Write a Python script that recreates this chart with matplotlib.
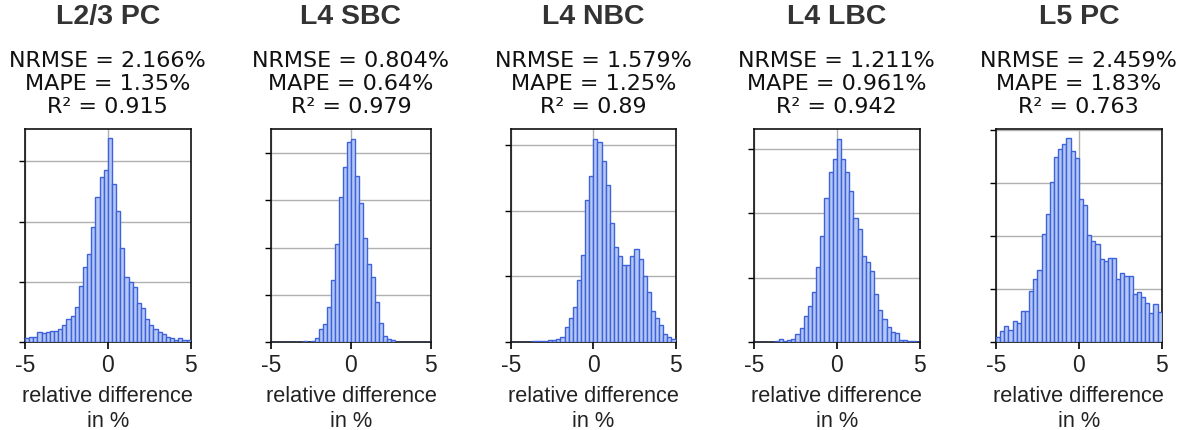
import numpy as np
import matplotlib
matplotlib.use("Agg")
import matplotlib.pyplot as plt

# histogram bins: 40 bins of 0.25 % between -5 and 5
bin_edges = np.linspace(-5, 5, 41)

titles = ["L2/3 PC", "L4 SBC", "L4 NBC", "L4 LBC", "L5 PC"]
nrmse = ["2.166%", "0.804%", "1.579%", "1.211%", "2.459%"]
mape = ["1.35%", "0.64%", "1.25%", "0.961%", "1.83%"]
r2 = ["0.915", "0.979", "0.89", "0.942", "0.763"]

# bar heights (arbitrary count units, 1 unit = one grid step)
l23_pc = [0.06, 0.08, 0.08, 0.16, 0.15, 0.17, 0.18, 0.19, 0.22, 0.29,
          0.39, 0.44, 0.58, 0.93, 1.25, 1.46, 1.91, 2.41, 2.75, 2.86,
          3.39, 2.62, 2.17, 1.57, 1.08, 1.00, 0.92, 0.64, 0.56, 0.39,
          0.29, 0.22, 0.17, 0.14, 0.09, 0.07, 0.04, 0.07, 0.03, 0.03]
l4_sbc = [0.0, 0.0, 0.0, 0.0, 0.0, 0.005, 0.01, 0.01, 0.02, 0.01,
          0.03, 0.09, 0.28, 0.38, 0.75, 1.31, 2.08, 3.06, 3.70, 4.23,
          4.30, 3.52, 2.94, 2.20, 1.66, 1.37, 0.85, 0.41, 0.13, 0.06,
          0.035, 0.01, 0.005, 0.0, 0.0, 0.0, 0.0, 0.0, 0.0, 0.0]
l4_nbc = [0.005, 0.005, 0.005, 0.005, 0.005, 0.01, 0.01, 0.015, 0.02, 0.03,
          0.03, 0.04, 0.08, 0.23, 0.37, 0.53, 0.95, 1.32, 2.17, 2.54,
          3.10, 3.05, 2.76, 2.40, 1.81, 1.45, 1.31, 1.17, 1.17, 1.31,
          1.42, 1.27, 1.01, 0.76, 0.47, 0.36, 0.26, 0.12, 0.07, 0.04]
l4_lbc = [0.005, 0.005, 0.005, 0.005, 0.005, 0.015, 0.045, 0.015, 0.035, 0.05,
          0.13, 0.22, 0.40, 0.56, 0.77, 1.16, 1.64, 2.24, 2.64, 2.85,
          3.16, 2.85, 2.64, 2.35, 1.93, 1.76, 1.34, 1.25, 1.10, 0.75,
          0.50, 0.36, 0.23, 0.15, 0.14, 0.035, 0.025, 0.015, 0.01, 0.005]
l5_pc = [0.09, 0.21, 0.30, 0.22, 0.39, 0.36, 0.58, 0.58, 0.96, 1.19,
         1.35, 2.04, 2.41, 3.01, 3.48, 3.63, 3.73, 3.84, 3.60, 3.46,
         2.69, 2.58, 2.01, 1.91, 1.84, 1.57, 1.52, 1.59, 1.59, 1.19,
         1.30, 1.24, 1.24, 0.91, 0.94, 0.85, 0.74, 0.55, 0.71, 0.56]

heights = [l23_pc, l4_sbc, l4_nbc, l4_lbc, l5_pc]
n_yticks = [4, 5, 4, 4, 5]
y_tops = [3.54, 4.51, 3.25, 3.31, 4.01]

# axes placement in figure fractions
lefts = [0.0211, 0.2289, 0.4316, 0.6368, 0.8412]
widths = [0.140, 0.135, 0.139, 0.140, 0.140]
bottom = 0.2047
height = 0.4953

fig = plt.figure(figsize=(11.84, 4.3), dpi=100)

for i in range(5):
    ax = fig.add_axes([lefts[i], bottom, widths[i], height])
    ax.bar(bin_edges[:-1], heights[i], width=0.25, align="edge",
           facecolor="#b5c8f3", edgecolor="#3d62dc", linewidth=1.0, zorder=3)
    ax.set_xlim(-5, 5)
    ax.set_ylim(0, y_tops[i])
    ax.set_xticks([-5, 0, 5])
    ax.set_xticklabels(["-5", "0", "5"], fontfamily="Liberation Sans",
                       fontsize=16.5, color="#222222")
    ax.set_yticks(np.arange(n_yticks[i]))
    ax.set_yticklabels([])
    ax.grid(True, color="#b0b0b0", linewidth=1.0, zorder=0)
    ax.tick_params(axis="x", length=5, width=1.2, pad=4)
    ax.tick_params(axis="y", length=4, width=1.0)
    for sp in ax.spines.values():
        sp.set_linewidth(1.2)
        sp.set_color("#111111")
    ax.set_xlabel("relative difference\nin %", fontfamily="Liberation Sans",
                  fontsize=15.7, color="#222222", labelpad=6, linespacing=1.25)

    cx = lefts[i] + widths[i] / 2
    fig.text(cx, 0.96, titles[i], ha="center", va="center",
             fontfamily="Liberation Sans", fontweight="bold", fontsize=20.5,
             color="#333333")
    stats = "NRMSE = " + nrmse[i] + "\nMAPE = " + mape[i] + "\nR² = " + r2[i]
    fig.text(cx, 0.805, stats, ha="center", va="center", fontsize=16,
             linespacing=1.18, color="#111111")

fig.savefig("out.png", dpi=100)
